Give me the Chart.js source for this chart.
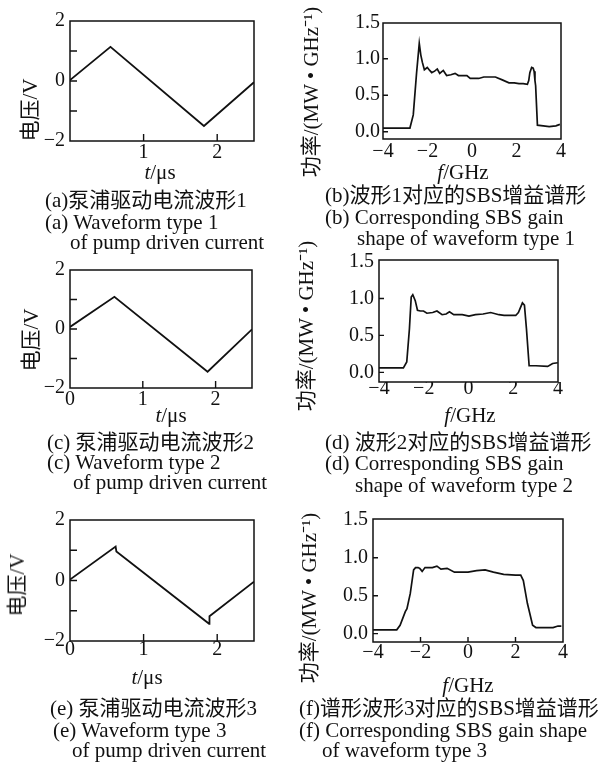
<!DOCTYPE html>
<html><head><meta charset="utf-8">
<script src="https://cdn.jsdelivr.net/npm/chart.js@4.4.1/dist/chart.umd.min.js"></script>
<style>
html,body{margin:0;padding:0;background:#fff;}
#wrap{position:relative;width:600px;height:771px;overflow:hidden;background:#fff;}
canvas{position:absolute;left:0;top:0;}
.t{position:absolute;white-space:nowrap;font-family:'Liberation Serif','Noto Sans CJK SC',serif;font-size:21px;line-height:24px;color:#111;}
.c{transform:translate(-50%,-50%);}
.r{transform:translate(-50%,-50%) rotate(-90deg);}
</style></head><body>
<div id="wrap">
<canvas id="ca" width="600" height="771"></canvas>
<canvas id="cb" width="600" height="771"></canvas>
<canvas id="cc" width="600" height="771"></canvas>
<canvas id="cd" width="600" height="771"></canvas>
<canvas id="ce" width="600" height="771"></canvas>
<canvas id="cf" width="600" height="771"></canvas>

<div class="t r" style="left:30px;top:110px">电压/V</div>
<div class="t r" style="left:31px;top:340px">电压/V</div>
<div class="t r" style="left:17px;top:585px">电压/V</div>
<div class="t r" style="left:311px;top:92px">功率/(MW • GHz⁻¹)</div>
<div class="t r" style="left:306px;top:326px">功率/(MW • GHz⁻¹)</div>
<div class="t r" style="left:309px;top:598px">功率/(MW • GHz⁻¹)</div>

<div class="t c" style="left:160px;top:172px"><i>t</i>/μs</div>
<div class="t c" style="left:171px;top:415px"><i>t</i>/μs</div>
<div class="t c" style="left:147px;top:677px"><i>t</i>/μs</div>
<div class="t c" style="left:463px;top:172px"><i>f</i>/GHz</div>
<div class="t c" style="left:470px;top:415px"><i>f</i>/GHz</div>
<div class="t c" style="left:468px;top:685px"><i>f</i>/GHz</div>

<div class="t" style="left:45px;top:188px">(a)泵浦驱动电流波形1</div>
<div class="t" style="left:45px;top:210px">(a) Waveform type 1</div>
<div class="t" style="left:70px;top:230px">of pump driven current</div>
<div class="t" style="left:325px;top:183px">(b)波形1对应的SBS增益谱形</div>
<div class="t" style="left:325px;top:205px">(b) Corresponding SBS gain</div>
<div class="t" style="left:357px;top:226px">shape of waveform type 1</div>

<div class="t" style="left:47px;top:430px">(c) 泵浦驱动电流波形2</div>
<div class="t" style="left:47px;top:450px">(c) Waveform type 2</div>
<div class="t" style="left:73px;top:470px">of pump driven current</div>
<div class="t" style="left:325px;top:430px">(d) 波形2对应的SBS增益谱形</div>
<div class="t" style="left:325px;top:451px">(d) Corresponding SBS gain</div>
<div class="t" style="left:355px;top:473px">shape of waveform type 2</div>

<div class="t" style="left:50px;top:696px">(e) 泵浦驱动电流波形3</div>
<div class="t" style="left:53px;top:718px">(e) Waveform type 3</div>
<div class="t" style="left:72px;top:738px">of pump driven current</div>
<div class="t" style="left:299px;top:696px">(f)谱形波形3对应的SBS增益谱形</div>
<div class="t" style="left:299px;top:718px">(f) Corresponding SBS gain shape</div>
<div class="t" style="left:322px;top:738px">of waveform type 3</div>
</div>
<script>
// ---- data ----
const waveT1 = [0, 0.55, 1.82, 2.5];
const waveV1 = [0.03, 1.14, -1.50, -0.04];
const waveT2 = [0, 0.61, 1.89, 2.5];
const waveV2 = [0.07, 1.09, -1.45, -0.01];
const waveT3 = [0, 0.62, 0.63, 1.89, 1.895, 2.5];
const waveV3 = [0.03, 1.12, 0.96, -1.43, -1.18, -0.04];

const specF1 = [-4, -3.5, -3.0, -2.79, -2.64, -2.49, -2.37, -2.30, -2.23, -2.14, -2.01, -1.90, -1.81, -1.68, -1.56, -1.45, -1.37, -1.29, -1.14, -0.95, -0.76, -0.61, -0.40, -0.23, -0.08, 0.10, 0.30, 0.53, 0.80, 1.05, 1.36, 1.66, 1.90, 2.11, 2.30, 2.49, 2.55, 2.60, 2.68, 2.75, 2.79, 2.83, 2.86, 2.94, 3.20, 3.47, 3.77, 3.95];
const specP1 = [0.05, 0.05, 0.05, 0.05, 0.23, 0.81, 1.21, 1.05, 0.95, 0.85, 0.88, 0.84, 0.81, 0.83, 0.86, 0.80, 0.82, 0.84, 0.77, 0.78, 0.80, 0.77, 0.77, 0.77, 0.73, 0.73, 0.73, 0.75, 0.75, 0.75, 0.71, 0.67, 0.67, 0.66, 0.66, 0.65, 0.70, 0.81, 0.88, 0.87, 0.83, 0.70, 0.63, 0.09, 0.08, 0.07, 0.08, 0.10];

const specF2 = [-4, -3.5, -2.91, -2.76, -2.64, -2.56, -2.49, -2.38, -2.28, -2.15, -2.01, -1.86, -1.60, -1.41, -1.18, -1.00, -0.85, -0.66, -0.28, 0.02, 0.31, 0.65, 0.99, 1.36, 1.59, 1.90, 2.11, 2.23, 2.41, 2.50, 2.59, 2.71, 3.01, 3.54, 3.76, 3.99];
const specP2 = [0.06, 0.06, 0.06, 0.14, 0.59, 1.02, 1.05, 0.97, 0.84, 0.83, 0.83, 0.80, 0.81, 0.83, 0.78, 0.79, 0.82, 0.78, 0.78, 0.76, 0.78, 0.79, 0.81, 0.78, 0.77, 0.77, 0.77, 0.81, 0.94, 0.91, 0.59, 0.09, 0.09, 0.08, 0.12, 0.13];

const specF3 = [-4, -3.0, -2.86, -2.64, -2.57, -2.43, -2.29, -2.21, -2.10, -2.03, -1.93, -1.81, -1.50, -1.31, -1.14, -0.88, -0.57, 0.00, 0.36, 0.72, 1.07, 1.50, 2.00, 2.22, 2.33, 2.50, 2.72, 2.86, 3.58, 3.79, 3.93];
const specP3 = [0.05, 0.05, 0.11, 0.29, 0.33, 0.53, 0.84, 0.87, 0.87, 0.86, 0.82, 0.87, 0.87, 0.89, 0.85, 0.86, 0.81, 0.81, 0.83, 0.84, 0.81, 0.78, 0.77, 0.77, 0.70, 0.40, 0.11, 0.08, 0.08, 0.10, 0.10];

// ---- ticks ----
const waveXTicks = [0, 1, 2];
const waveXLabelsA = ['', '1', '2'];
const waveXLabelsCE = ['0', '1', '2'];
const waveYTicks = [-2, -1, 0, 1, 2];
const waveYLabels = ['−2', '', '0', '', '2'];
const specXTicks = [-4, -2, 0, 2, 4];
const specXLabels = ['−4', '−2', '0', '2', '4'];
const specYTicks = [0, 0.5, 1.0, 1.5];
const specYLabels = ['0.0', '0.5', '1.0', '1.5'];

const FONT = "'Liberation Serif', 'Times New Roman', serif";
const INK = '#111';

const framePlugin = {
  id: 'frame',
  afterDatasetsDraw(chart, args, o) {
    const {ctx, chartArea: a, scales} = chart;
    ctx.save();
    ctx.strokeStyle = INK;
    ctx.lineWidth = 1.5;
    ctx.strokeRect(a.left, a.top, a.right - a.left, a.bottom - a.top);
    ctx.lineWidth = 1.4;
    ctx.beginPath();
    if (o.yTick) scales.y.ticks.forEach(t => {
      const p = scales.y.getPixelForValue(t.value);
      if (p > a.top + 2 && p < a.bottom - 2) { ctx.moveTo(a.left, p); ctx.lineTo(a.left + o.yTick, p); }
    });
    if (o.xTick) scales.x.ticks.forEach(t => {
      const p = scales.x.getPixelForValue(t.value);
      if (p > a.left + 2 && p < a.right - 2) { ctx.moveTo(p, a.bottom); ctx.lineTo(p, a.bottom - o.xTick); }
    });
    ctx.stroke();
    ctx.restore();
  }
};

function panel(id, box, xs, ys, xr, yr, xTicks, xLabels, yTicks, yLabels, pads, marks, lw) {
  const yw = 60, xh = 30;
  const pts = xs.map((x, i) => ({x: x, y: ys[i]}));
  new Chart(document.getElementById(id), {
    type: 'line',
    data: { datasets: [{ data: pts, borderColor: INK, borderWidth: lw, pointRadius: 0, tension: 0, fill: false }] },
    plugins: [framePlugin],
    options: {
      responsive: false, animation: false, events: [],
      layout: { padding: { left: box.l - yw, top: box.t, right: 600 - box.r, bottom: 771 - box.b - xh } },
      plugins: { legend: { display: false }, tooltip: { enabled: false }, frame: marks },
      scales: {
        x: {
          type: 'linear', min: xr[0], max: xr[1],
          afterBuildTicks: s => { s.ticks = xTicks.map(v => ({value: v})); },
          afterFit: s => { s.height = xh; },
          grid: { display: false, drawTicks: false }, border: { display: false },
          ticks: { padding: pads.x, color: INK, font: { family: FONT, size: 20 }, maxRotation: 0, autoSkip: false,
                   callback: (v, i) => xLabels[i] }
        },
        y: {
          type: 'linear', min: yr[0], max: yr[1],
          afterBuildTicks: s => { s.ticks = yTicks.map(v => ({value: v})); },
          afterFit: s => { s.width = yw; },
          grid: { display: false, drawTicks: false }, border: { display: false },
          ticks: { padding: pads.y, color: INK, font: { family: FONT, size: 20 }, autoSkip: false,
                   callback: (v, i) => yLabels[i] }
        }
      }
    }
  });
}

panel('ca', {l:70, t:21, r:254, b:141}, waveT1, waveV1, [0, 2.5], [-2, 2], waveXTicks, waveXLabelsA, waveYTicks, waveYLabels, {x:0, y:5}, {yTick:7, xTick:7}, 1.8);
panel('cc', {l:70, t:270, r:252, b:388}, waveT2, waveV2, [0, 2.5], [-2, 2], waveXTicks, waveXLabelsCE, waveYTicks, waveYLabels, {x:0, y:5}, {yTick:7, xTick:7}, 1.8);
panel('ce', {l:70, t:520, r:254, b:641}, waveT3, waveV3, [0, 2.5], [-2, 2], waveXTicks, waveXLabelsCE, waveYTicks, waveYLabels, {x:-3, y:5}, {yTick:7, xTick:7}, 1.8);

panel('cb', {l:383, t:23, r:561, b:139}, specF1, specP1, [-4, 4], [-0.1, 1.49], specXTicks, specXLabels, specYTicks, specYLabels, {x:1, y:3}, {yTick:5, xTick:0}, 1.7);
panel('cd', {l:379, t:260, r:558, b:382}, specF2, specP2, [-4, 4], [-0.13, 1.52], specXTicks, specXLabels, specYTicks, specYLabels, {x:-5, y:5}, {yTick:5, xTick:0}, 1.7);
panel('cf', {l:373, t:519, r:563, b:642}, specF3, specP3, [-4, 4], [-0.11, 1.51], specXTicks, specXLabels, specYTicks, specYLabels, {x:-1, y:5}, {yTick:5, xTick:5}, 1.7);
</script>
</body></html>
